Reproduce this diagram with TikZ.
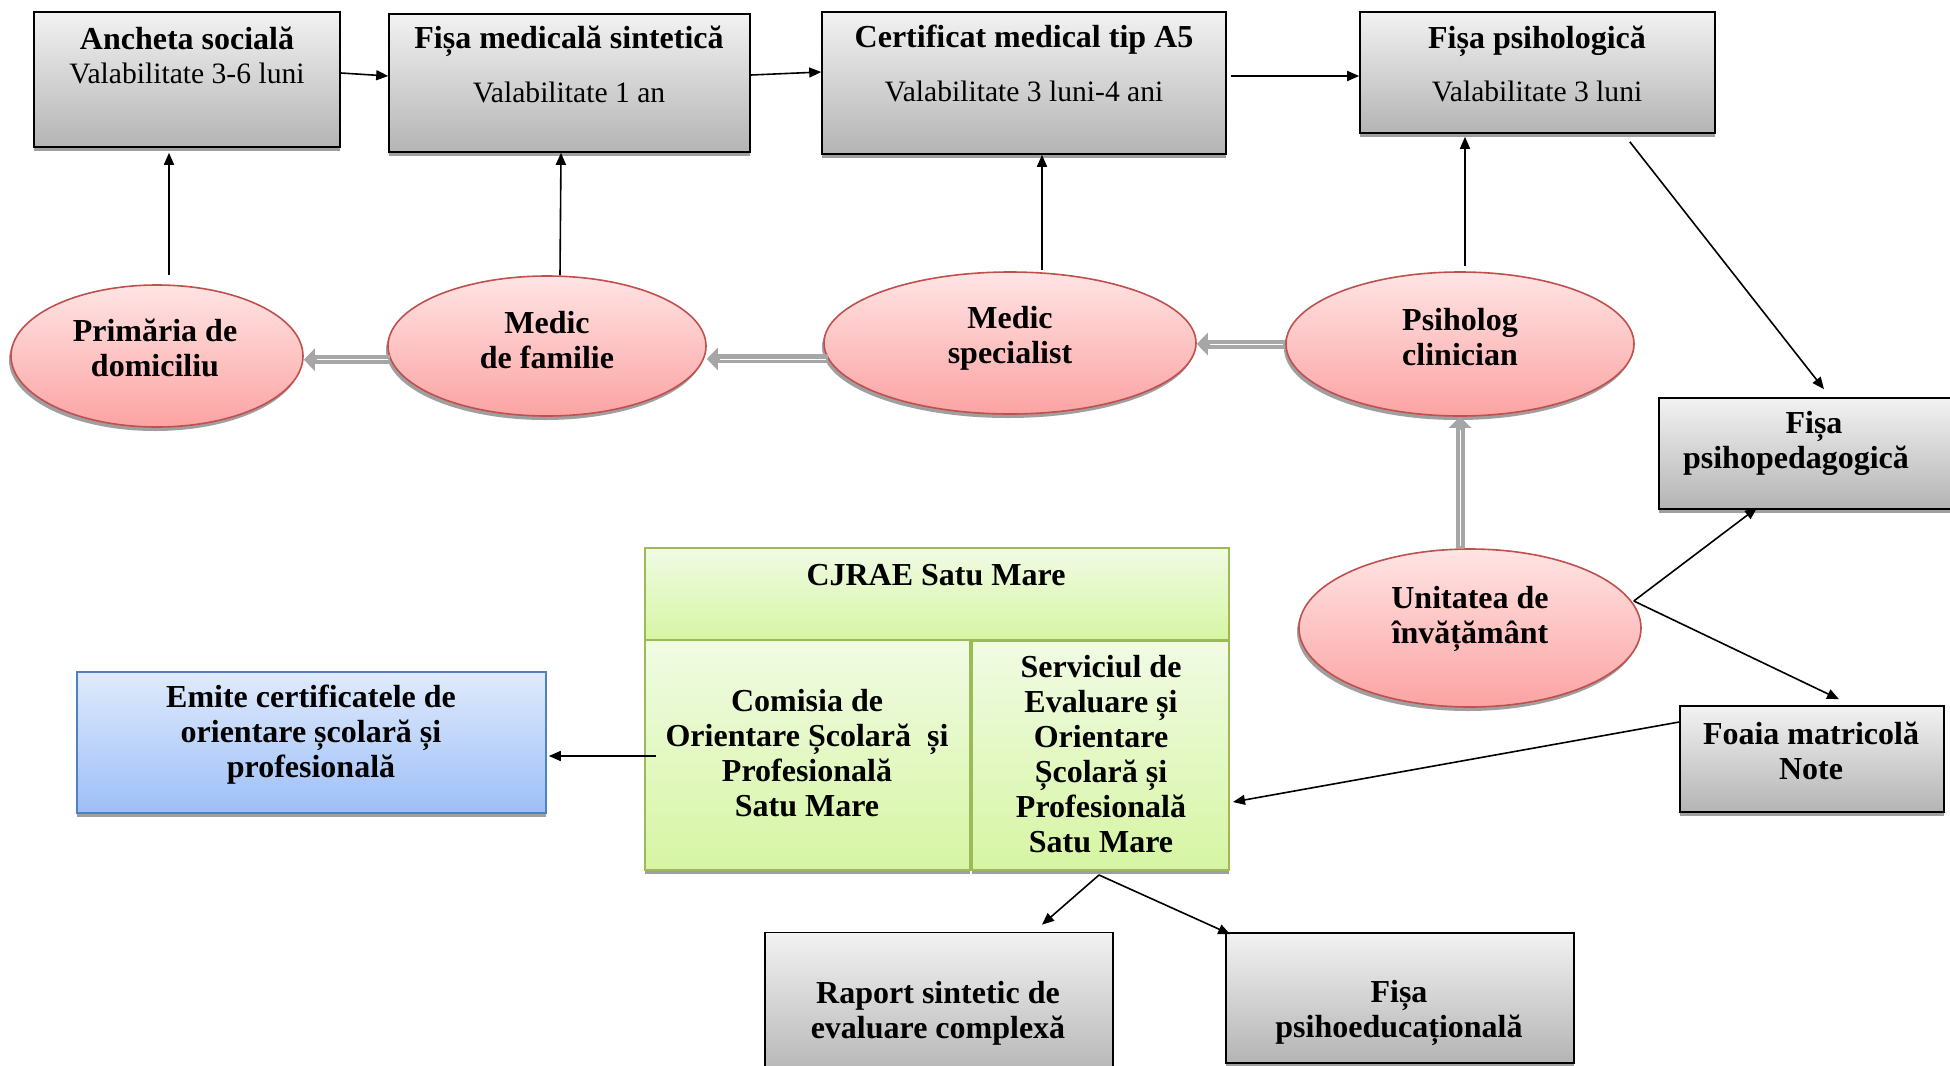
\documentclass[tikz,border=0pt]{standalone}
\usepackage{fontspec}
\setmainfont{Liberation Serif}
\usetikzlibrary{shapes.geometric,shadows,arrows.meta,calc}
\definecolor{grayT}{HTML}{F2F2F2}
\definecolor{grayB}{HTML}{B4B4B4}
\definecolor{pinkT}{HTML}{FFE4E4}
\definecolor{pinkB}{HTML}{FCA3A3}
\definecolor{pinkD}{HTML}{C0504D}
\definecolor{greenT}{HTML}{F1FBE4}
\definecolor{greenB}{HTML}{D6F5A3}
\definecolor{greenD}{HTML}{9BBB59}
\definecolor{blueT}{HTML}{E0EAFC}
\definecolor{blueB}{HTML}{9DBFF7}
\definecolor{blueD}{HTML}{4F81BD}
\definecolor{garrow}{HTML}{A6A6A6}
\tikzset{
  shd/.style={drop shadow={shadow xshift=0pt, shadow yshift=-2pt, fill=gray!75, opacity=1}},
  graybox/.style={rectangle, inner sep=0pt, draw=black, line width=0.8pt, top color=grayT, bottom color=grayB, shd},
  greenbox/.style={rectangle, inner sep=0pt, draw=greenD, line width=1pt, top color=greenT, bottom color=greenB, shd},
  bluebox/.style={rectangle, inner sep=0pt, draw=blueD, line width=0.8pt, top color=blueT, bottom color=blueB, shd},
  pinkell/.style={ellipse, inner sep=0pt, draw=pinkD, line width=0.8pt, top color=pinkT, bottom color=pinkB,
     drop shadow={shadow xshift=-1pt, shadow yshift=-2pt, fill=gray!75, opacity=1}},
  btxt/.style={font=\bfseries\fontsize{16}{17.5}\selectfont, align=center, inner sep=0pt},
  rtxt/.style={font=\fontsize{14.8}{17.5}\selectfont, align=center, inner sep=0pt},
  arr/.style={line width=0.8pt, -{Triangle[length=6pt,width=5pt]}},
  garr/.style={line width=4.5pt, draw=garrow, -{Triangle[length=5.5pt,width=11pt]},
     postaction={draw=white, line width=0.4pt, -, shorten >=6.5pt, shorten <=1pt}}
}
\begin{document}
\begin{tikzpicture}[x=0.5pt,y=-0.5pt]
\useasboundingbox (0,0) rectangle (1950,1066);
\clip (0,0) rectangle (1950,1066);
\fill[white] (0,0) rectangle (1950,1066);

% top row boxes
\node[graybox, minimum width=153pt, minimum height=67.5pt] (anc) at (187,79.5) {};
\node[graybox, minimum width=180.5pt, minimum height=69pt] (fm) at (569.5,83) {};
\node[graybox, minimum width=202pt, minimum height=71pt] (cert) at (1024,83) {};
\node[graybox, minimum width=177.5pt, minimum height=60.5pt] (fp) at (1537.5,72.5) {};
\node[btxt] (anct) at (187,38.5) {Ancheta socială};
\node[rtxt] (ancv) at (187,73) {Valabilitate 3-6 luni};
\node[btxt] (fmt) at (569,41) {Fișa medicală sintetică};
\node[rtxt] (fmv) at (569,92) {Valabilitate 1 an};
\node[btxt] (certt) at (1024,40) {Certificat medical tip A5};
\node[rtxt] (certv) at (1024,91) {Valabilitate 3 luni-4 ani};
\node[btxt] (fpt) at (1537,41) {Fișa psihologică};
\node[rtxt] (fpv) at (1537,91) {Valabilitate 3 luni};

% right boxes
\node[graybox, minimum width=150pt, minimum height=55.5pt] (fpp) at (1809,453.5) {};
\node[btxt] (fppt) at (1796,443.5) {\hspace*{18pt}Fișa\\psihopedagogică};
\node[graybox, minimum width=132pt, minimum height=53pt] (foaia) at (1812,759) {};
\node[btxt] (foaiat) at (1811,751) {Foaia matricolă\\Note};

% ellipses
\node[pinkell, minimum width=146pt, minimum height=71pt] (pr) at (157,356) {};
\node[btxt] (prt) at (155,348) {Primăria de\\domiciliu};
\node[pinkell, minimum width=159pt, minimum height=70pt] (mf) at (547,346) {};
\node[btxt] (mft) at (547,340) {Medic\\de familie};
\node[pinkell, minimum width=186pt, minimum height=71pt] (ms) at (1010,343) {};
\node[btxt] (mst) at (1010,338) {Medic\\specialist};
\node[pinkell, minimum width=174pt, minimum height=72pt] (pc) at (1460,344) {};
\node[btxt] (pct) at (1460,337) {Psiholog\\clinician};
\node[pinkell, minimum width=171pt, minimum height=79pt] (un) at (1470,628) {};
\node[btxt] (unt) at (1470,619) {Unitatea de\\învățământ};

% CJRAE block
\node[greenbox, minimum width=292pt, minimum height=46pt] (cj) at (937,594) {};
\node[btxt] (cjt) at (936,575) {CJRAE Satu Mare};
\node[greenbox, minimum width=162.5pt, minimum height=115pt] (com) at (807.5,755) {};
\node[btxt] (comt) at (807,753) {Comisia de\\Orientare Școlară \ și\\Profesională\\Satu Mare};
\node[greenbox, minimum width=128.5pt, minimum height=114.5pt] (serv) at (1100.5,755.5) {};
\node[btxt] (servt) at (1101,754) {Serviciul de\\Evaluare și\\Orientare\\Școlară și\\Profesională\\Satu Mare};

% blue box
\node[bluebox, minimum width=234.5pt, minimum height=70.5pt] (em) at (311.5,742.5) {};
\node[btxt] (emt) at (311,735) {Emite certificatele de\\orientare școlară și\\profesională};

% bottom boxes
\node[graybox, minimum width=174pt, minimum height=73.5pt] (rap) at (939,1006) {};
\node[btxt] (rapt) at (938,1013) {Raport sintetic de\\evaluare complexă};
\node[graybox, minimum width=174pt, minimum height=65pt] (fpe) at (1400,998) {};
\node[btxt] (fpet) at (1399,1013) {Fișa\\psihoeducațională};

% thin arrows
\draw[arr] ($(anc.east)+(0,-6.5)$) -- ($(fm.west)+(0,-7)$);
\draw[arr] ($(fm.east)+(0,-8)$) -- ($(cert.west)+(0,-11)$);
\draw[arr] ($(cert.east)+(4,-7)$) -- ($(fp.west)+(0,3.5)$);
\draw[arr] ($(pr.north)+(12,-9)$) -- ($(anc.south)+(-18,5)$);
\draw[arr] ($(mf.north)+(13,0)$) -- ($(fm.south)+(-8.5,0)$);
\draw[arr] ($(ms.north)+(32,-1)$) -- ($(cert.south)+(18,0)$);
\draw[arr] ($(pc.north)+(5,-5)$) -- ($(fp.south)+(-72.5,3)$);
\draw[arr] ($(fp.south east)+(-86,8)$) -- ($(fpp.north)+(15,-8)$);
\draw[arr] ($(un.east)+(-8,-27)$) -- ($(fpp.south)+(-52,-2)$);
\draw[arr] ($(un.east)+(-8,-27)$) -- ($(foaia.north)+(27,-6)$);
\draw[arr] ($(foaia.west)+(0,-37)$) -- ($(serv.east)+(3,46.5)$);
\draw[arr] ($(com.west)+(12,1)$) -- ($(em.east)+(2,13.5)$);
\draw[arr] ($(serv.south)+(-1.5,4)$) -- ($(rap.north)+(103,-7)$);
\draw[arr] ($(serv.south)+(-1.5,4)$) -- ($(fpe.north west)+(5,2)$);

% gray arrows
\draw[garr] (mf.185) -- (mf.185 -| pr.east);
\draw[garr] (ms.185) -- (ms.185 -| mf.east);
\draw[garr] (pc.west) -- (pc.west -| ms.east);
\draw[garr] (un.north -| pc.south) -- (pc.south);
\end{tikzpicture}
\end{document}
